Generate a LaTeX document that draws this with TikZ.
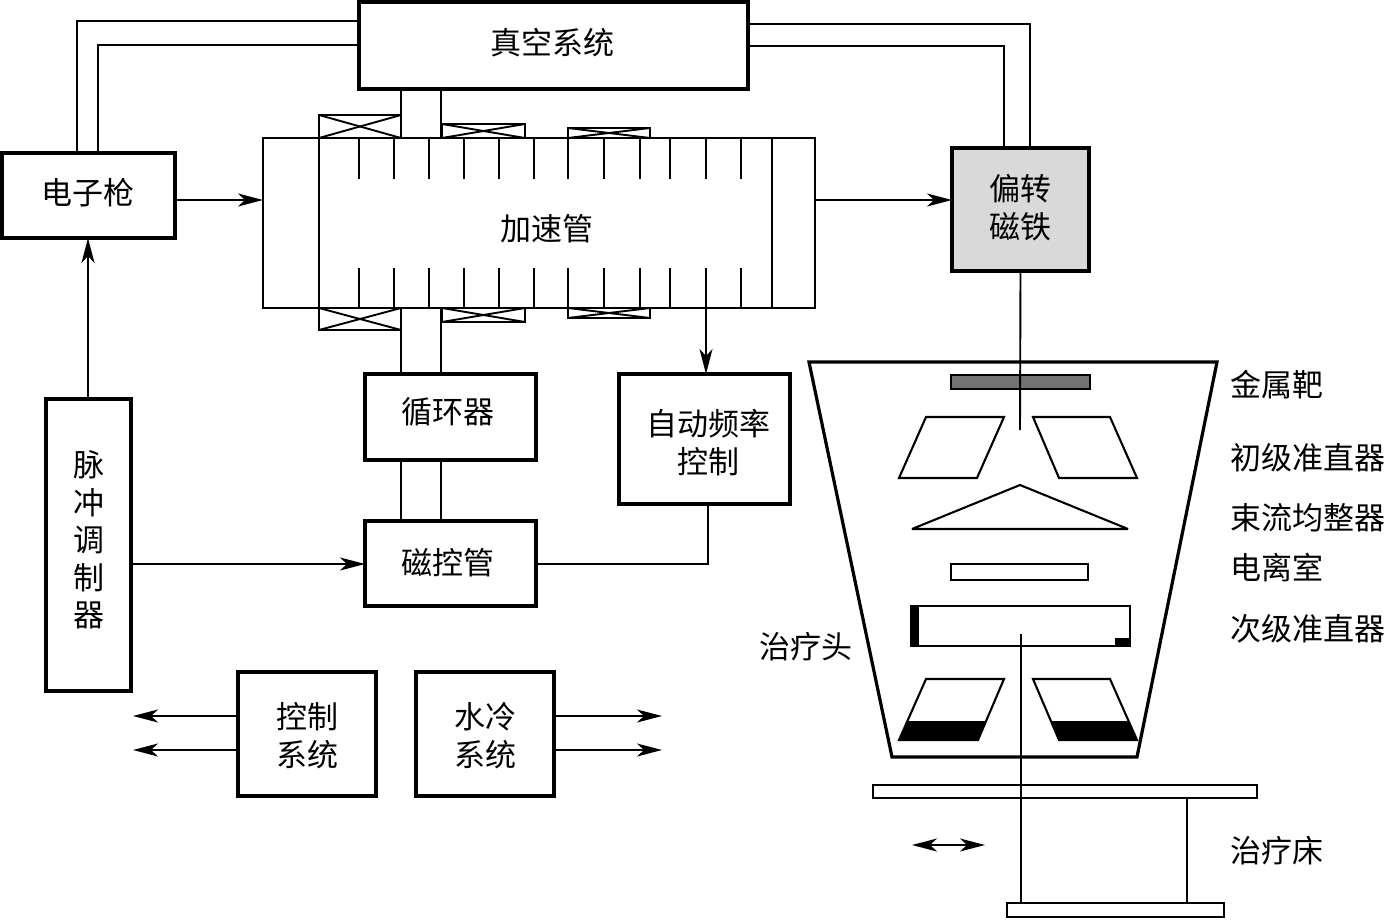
\documentclass[tikz,border=0pt]{standalone}
\usepackage{fontspec}
\setmainfont{Noto Sans CJK SC}
\usetikzlibrary{calc,arrows.meta}
\tikzset{
  unitbox/.style={draw,line width=3.2pt,inner sep=0pt,outer sep=0pt},
  boxtext/.style={inner sep=0pt,align=center,font=\fontsize{31}{38}\selectfont},
  thinline/.style={line width=1.9pt},
  midline/.style={line width=2.1pt},
  flowarrow/.style={thinline,-{Stealth[length=25pt,width=13pt,inset=7pt]}},
  sidelabel/.style={anchor=west,inner sep=0pt,font=\fontsize{31}{36}\selectfont},
}

\begin{document}
\begin{tikzpicture}[x=1pt,y=-1pt]
        \useasboundingbox (0,0) rectangle (1387,920);

        % Waveguide and beam axis positions
        \coordinate (wgL) at (401,0);
        \coordinate (wgR) at (441,0);
        \coordinate (axisL) at (263,200);
        \coordinate (axisR) at (815,200);
        \coordinate (beam) at (1020,430);

        % Accelerating tube with its cavity walls
        \node[draw,thinline,minimum width=552pt,minimum height=170pt,inner sep=0pt,outer sep=0pt] (tube) at (539,223) {};
        \node[boxtext] (tubelabel) at (547,229) {加速管};
        \draw[thinline] (319,138) -- (319,308);
        \draw[thinline] (772,138) -- (772,308);
        \foreach \x in {359,394,429,464,499,534,568,604,640,670,706,741} {
            \draw[thinline] (\x,138) -- (\x,179);
            \draw[thinline] (\x,268) -- (\x,308);
        }

        % Focusing coils above and below the tube
        \foreach \xa/\xb/\ya/\yb in {319/401/115/138,442/525/124/138,568/650/128/138,319/401/308/330,442/525/308/322,568/650/308/318} {
            \draw[thinline] (\xa,\ya) rectangle (\xb,\yb);
            \draw[thinline] (\xa,\ya) -- (\xb,\yb);
            \draw[thinline] (\xa,\yb) -- (\xb,\ya);
        }

        % Blocks
        \node[unitbox,minimum width=389pt,minimum height=87pt] (vacuum) at (553.5,45.5) {};
        \node[unitbox,minimum width=173pt,minimum height=85pt] (gun) at (88.5,195.5) {};
        \node[unitbox,minimum width=137pt,minimum height=123pt,fill=black!15] (bend) at (1020.5,209.5) {};
        \node[unitbox,minimum width=171pt,minimum height=86pt] (circulator) at (450.5,417) {};
        \node[unitbox,minimum width=171pt,minimum height=85pt] (magnetron) at (450.5,563.5) {};
        \node[unitbox,minimum width=171pt,minimum height=130pt] (afc) at (704.5,439) {};
        \node[unitbox,minimum width=85pt,minimum height=292pt] (pulse) at (88.5,545) {};
        \node[unitbox,minimum width=138pt,minimum height=124pt] (control) at (307,734) {};
        \node[unitbox,minimum width=138pt,minimum height=124pt] (water) at (485,734) {};

        % Block titles
        \node[boxtext] (vacuumtext) at (552,43) {真空系统};
        \node[boxtext] (guntext) at (88,193) {电子枪};
        \node[boxtext] (bendtext) at (1020.5,208) {偏转\\磁铁};
        \node[boxtext] (circulatortext) at (448,412) {循环器};
        \node[boxtext] (magnetrontext) at (448,563) {磁控管};
        \node[boxtext] (afctext) at (708,443) {自动频率\\控制};
        \node[boxtext,font=\fontsize{31}{37.5}\selectfont] (pulsetext) at (88.5,540) {脉\\冲\\调\\制\\器};
        \node[boxtext] (controltext) at (307,736) {控制\\系统};
        \node[boxtext] (watertext) at (485,736) {水冷\\系统};

        % Vacuum pipes
        \draw[thinline] (vacuum.west |- 0,21) -- (77,21) -- (77,21 |- gun.north);
        \draw[thinline] (vacuum.west |- 0,45) -- (98,45) -- (98,45 |- gun.north);
        \draw[thinline] (vacuum.east |- 0,24) -- (1030,24) -- (1030,24 |- bend.north);
        \draw[thinline] (vacuum.east |- 0,46) -- (1004,46) -- (1004,46 |- bend.north);

        % Waveguide between the blocks and the tube
        \draw[thinline] (wgL |- vacuum.south) -- (wgL |- 0,115);
        \draw[thinline] (wgR |- vacuum.south) -- (wgR |- tube.north);
        \draw[thinline] (wgL |- 0,330) -- (wgL |- circulator.north);
        \draw[thinline] (wgR |- tube.south) -- (wgR |- circulator.north);
        \draw[thinline] (wgL |- circulator.south) -- (wgL |- magnetron.north);
        \draw[thinline] (wgR |- circulator.south) -- (wgR |- magnetron.north);

        % Signal and beam arrows
        \draw[flowarrow] (gun.east |- axisL) -- (axisL);
        \draw[flowarrow] (axisR) -- (bend.west |- axisR);
        \draw[flowarrow] ([xshift=-.5pt]pulse.north) -- ([xshift=-.5pt]gun.south);
        \draw[flowarrow] (pulse.east |- 0,564) -- (magnetron.west |- 0,564);
        \draw[flowarrow] (706,308) -- (706,308 |- afc.north);
        \draw[thinline] (magnetron.east |- 0,564) -- (708,564) -- (708,0 |- afc.south);
        \draw[flowarrow] (control.west |- 0,716) -- (133,716);
        \draw[flowarrow] (control.west |- 0,750) -- (133,750);
        \draw[flowarrow] (water.east |- 0,716) -- (662,716);
        \draw[flowarrow] (water.east |- 0,750) -- (662,750);

        % Treatment head
        \draw[line width=3.2pt] (809,362) -- (1217,362) -- (1137,757) -- (892,757) -- cycle;
        \draw[midline,fill=black!55] (951,375) rectangle (1090,389);
        \draw[thinline] (bend.south) -- (beam);

        % Primary collimator and flattening filter
        \draw[midline] (926,417) -- (1004,417) -- (977,478) -- (899,478) -- cycle;
        \draw[midline] (1033,417) -- (1110,417) -- (1137,478) -- (1059,478) -- cycle;
        \draw[midline,miter limit=3] (1020,485) -- (1128,529) -- (912,529) -- cycle;

        % Ion chamber
        \draw[midline] (951,564) rectangle (1088,580);
        \draw[midline] (911,606) rectangle (1130,646);
        \fill (911,606) rectangle (919,646);
        \fill (1115,638) rectangle (1130,646);

        % Secondary collimator jaws
        \draw[midline] (926,679) -- (1004,679) -- (978,740) -- (899,740) -- cycle;
        \draw[midline] (1033,679) -- (1110,679) -- (1137,740) -- (1059,740) -- cycle;
        \fill (907.5,721) -- (986,721) -- (978,740) -- (899,740) -- cycle;
        \fill (1051,721) -- (1129,721) -- (1137,740) -- (1059,740) -- cycle;

        % Treatment couch
        \node[draw,midline,minimum width=384pt,minimum height=13pt,inner sep=0pt,outer sep=0pt] (top) at (1065,791.5) {};
        \node[draw,midline,minimum width=217pt,minimum height=14pt,inner sep=0pt,outer sep=0pt] (base) at (1115.5,910) {};
        \draw[thinline] (1021,634) -- (1021,634 |- base.north);
        \draw[thinline] (1187,0 |- top.south) -- (1187,0 |- base.north);
        \draw[thinline,{Stealth[length=25pt,width=13pt,inset=7pt]}-{Stealth[length=25pt,width=13pt,inset=7pt]}] (912,845) -- (985,845);

        % Labels
        \node[sidelabel] (lbltarget) at (1230,385) {金属靶};
        \node[sidelabel] (lblprimary) at (1230,458) {初级准直器};
        \node[sidelabel] (lblfilter) at (1230,518) {束流均整器};
        \node[sidelabel] (lblchamber) at (1230,568) {电离室};
        \node[sidelabel] (lblsecondary) at (1230,629) {次级准直器};
        \node[sidelabel] (lblhead) at (759,647) {治疗头};
        \node[sidelabel] (lblcouch) at (1230,851) {治疗床};
    \end{tikzpicture}
\end{document}
